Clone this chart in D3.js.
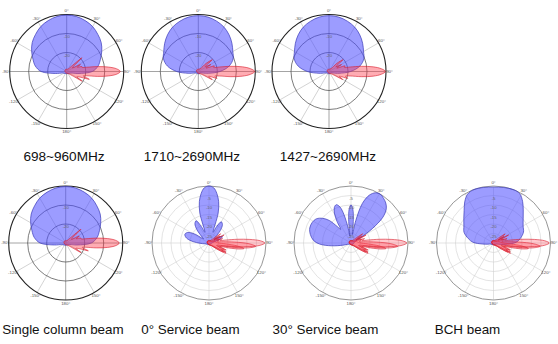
<!DOCTYPE html>
<html><head><meta charset="utf-8">
<script src="https://cdn.jsdelivr.net/npm/d3@7"></script>
<style>html,body{margin:0;padding:0;background:#fff;} svg{display:block;}</style>
</head><body>
<svg id="c" width="558" height="344"></svg>
<script>
// ---------------- DATA (angle in degrees clockwise from top, level in dB) ----------------
const spokeAngles = [0, 30, 60, 90, 120, 150, 180, -150, -120, -90, -60, -30];
const spokeLabels = ["0°", "30°", "60°", "90°", "120°", "150°", "180°", "-150°", "-120°", "-90°", "-60°", "-30°"];
const topRings = [-20, -10, 0];
const topRingLabels = ["-20", "-10"];
const svcRings = [-25, -20, -15, -10, -5, 0];
const svcRingLabels = ["-25", "-20", "-15", "-10", "-5"];
const captionsTop = ["698~960MHz", "1710~2690MHz", "1427~2690MHz"];
const captionsBottom = ["Single column beam", "0° Service beam", "30° Service beam", "BCH beam"];

// horizontal (blue) patterns
const hLow = [[-180,-28.8],[-150,-28.8],[-135,-28.5],[-120,-28.2],[-110,-27.6],[-100,-24],[-90,-16.5],[-80,-13.2],[-70,-11.1],[-60,-8.7],[-50,-6.3],[-40,-4.5],[-30,-2.7],[-20,-1.5],[-10,-0.6],[0,-0.3],[10,-0.6],[20,-1.5],[30,-2.7],[40,-4.5],[50,-6.3],[60,-8.7],[70,-11.1],[80,-13.2],[90,-16.5],[100,-24],[110,-27.6],[120,-28.2],[135,-28.5],[150,-28.8]];
const hHigh = [[-180,-28.8],[-160,-28.8],[-140,-28.8],[-120,-28.5],[-110,-27.6],[-100,-24.6],[-90,-18.6],[-80,-13.5],[-70,-10.5],[-60,-9],[-50,-6.9],[-40,-4.8],[-30,-3],[-20,-1.8],[-10,-0.9],[0,-0.6],[10,-0.9],[20,-1.8],[30,-3],[40,-4.8],[50,-6.9],[60,-9],[70,-10.5],[80,-13.5],[90,-18.6],[100,-24.6],[110,-27.6],[120,-28.5],[140,-28.8],[160,-28.8]];
const hSvc0 = [[-180,-29.1],[-150,-29.1],[-120,-28.8],[-105,-28.2],[-95,-26.4],[-88,-23.4],[-82,-19.8],[-76,-17.4],[-70,-16.5],[-64,-17.4],[-58,-21],[-53,-26.4],[-48,-24.6],[-42,-20.4],[-36,-17.4],[-30,-16.5],[-25,-20.4],[-21,-24],[-17,-13.5],[-13,-7.5],[-9,-3.6],[-5,-0.9],[0,0],[5,-0.9],[9,-3.6],[13,-7.5],[17,-13.5],[21,-24],[25,-20.4],[30,-17.1],[36,-18],[42,-21],[48,-25.5],[53,-26.4],[58,-24],[64,-22.2],[70,-23.4],[76,-26.4],[85,-28.2],[100,-28.8],[120,-29.1],[150,-29.1]];
const hSvc30 = [[-180,-29.1],[-140,-29.1],[-115,-28.5],[-105,-25.5],[-98,-19.5],[-92,-13.5],[-86,-10.2],[-78,-8.1],[-70,-6.9],[-62,-6.9],[-55,-7.8],[-49,-10.2],[-44,-13.5],[-40,-18.6],[-37,-21],[-33,-16.5],[-29,-12],[-25,-9.3],[-21,-8.4],[-17,-10.2],[-14,-14.4],[-11,-21.6],[-9,-26.4],[-6,-18.6],[-3,-12],[0,-9.9],[3,-12],[6,-18.6],[9,-25.5],[12,-18],[16,-8.4],[21,-3],[26,-0.6],[31,0],[36,-0.9],[41,-2.1],[46,-4.2],[51,-8.4],[56,-16.5],[61,-24],[70,-27.6],[90,-28.5],[120,-28.8],[150,-29.1]];
const hBch = [[-180,-29.1],[-130,-28.8],[-112,-28.5],[-102,-27],[-95,-24],[-88,-19.2],[-80,-16.5],[-70,-13.5],[-60,-12],[-50,-9.6],[-42,-6.9],[-35,-3.6],[-28,-0.9],[-20,0],[-10,-0.3],[0,-0.6],[10,-0.3],[20,0],[28,-0.6],[35,-3.3],[42,-6.6],[50,-9.6],[60,-12],[70,-13.2],[80,-15.6],[88,-18],[95,-22.5],[102,-26.4],[112,-28.5],[130,-28.8]];

// vertical (red) patterns
const vLow = [[-90,-29.1],[-40,-28.8],[0,-28.8],[30,-28.5],[42,-26.4],[48,-19.2],[53,-25.5],[58,-26.4],[63,-21.9],[68,-24],[72,-21.6],[75,-21.6],[78,-19.2],[81,-13.5],[84,-7.8],[87,-3.6],[90,-1.8],[93,-3.6],[96,-7.8],[99,-13.5],[102,-19.2],[105,-21],[109,-17.4],[113,-22.5],[118,-24],[122,-20.4],[127,-26.4],[140,-28.5],[180,-29.1]];
const vHigh = [[-90,-29.1],[-40,-28.8],[0,-28.8],[35,-28.2],[44,-24],[50,-20.4],[55,-25.5],[61,-22.5],[66,-25.5],[71,-21],[75,-21.6],[78,-18.6],[81,-12.6],[84,-6.6],[87,-2.4],[90,-0.3],[93,-2.4],[96,-6.6],[99,-12.6],[102,-18.6],[106,-21],[110,-19.5],[115,-24],[120,-21.6],[125,-26.4],[140,-28.5],[180,-29.1]];
const vSvcA = [[-90,-29.1],[-40,-28.8],[0,-28.8],[30,-28.5],[45,-26.4],[52,-22.2],[57,-27],[62,-21],[67,-25.8],[72,-22.5],[77,-24],[80,-21],[82.5,-15],[85,-8.4],[87.5,-3],[90,-0.6],[92.5,-3],[95,-8.4],[97.5,-15],[100,-21],[103,-24.6],[108,-25.8],[113,-21.6],[118,-20.1],[123,-25.5],[135,-28.2],[180,-29.1]];
const vSvcB = [[-90,-29.1],[-40,-28.8],[0,-28.8],[50,-28.2],[58,-23.4],[63,-27],[72,-24],[80,-25.5],[85,-22.5],[88,-16.5],[91,-9],[94,-5.4],[97,-9],[100,-16.5],[103,-22.5],[108,-24],[112,-20.4],[117,-22.5],[122,-21],[128,-25.5],[140,-28.5],[180,-29.1]];
const vSvcC = [[-90,-29.1],[-40,-28.8],[0,-28.8],[60,-28.5],[75,-27],[88,-25.5],[93,-21],[96,-15],[99,-11.4],[102,-15],[105,-21],[110,-24.6],[116,-22.5],[121,-19.5],[126,-24],[140,-28.2],[180,-29.1]];

// ---------------- LAYOUT ----------------
const charts = [
  {cx: 66.7, cy: 71.5, R: 57, grid: "dark", blue: hLow,  reds: [vLow]},
  {cx: 198.3, cy: 71.5, R: 57, grid: "dark", blue: hHigh, reds: [vHigh]},
  {cx: 329, cy: 71.5, R: 57, grid: "dark", blue: hHigh, reds: [vHigh]},
  {cx: 65.7, cy: 243, R: 57, grid: "dark", blue: hLow,  reds: [vLow]},
  {cx: 209, cy: 243, R: 57, grid: "light", blue: hSvc0,  reds: [vSvcC, vSvcB, vSvcA]},
  {cx: 351, cy: 243, R: 57, grid: "light", blue: hSvc30, reds: [vSvcC, vSvcB, vSvcA]},
  {cx: 493.5, cy: 243, R: 57, grid: "light", blue: hBch,   reds: [vSvcC, vSvcB, vSvcA]}
];
const capTopX = [64, 192, 328], capTopY = 160.5;
const capBotX = [63, 190.5, 325.5, 467.5], capBotY = 334;

const svg = d3.select("#c");
const rad = Math.PI / 180;

charts.forEach(c => {
  const g = svg.append("g").attr("transform", `translate(${c.cx},${c.cy})`);
  const r = d3.scaleLinear().domain([-30, 0]).range([0, c.R]);
  const dark = c.grid === "dark";
  const rings = dark ? topRings : svcRings;

  // spokes
  g.selectAll("line.sp").data(spokeAngles).join("line")
    .attr("x1", 0).attr("y1", 0)
    .attr("x2", a => c.R * Math.sin(a * rad))
    .attr("y2", a => -c.R * Math.cos(a * rad))
    .attr("stroke", a => (dark && (a % 90 === 0)) ? "#9a9a9a" : (dark ? "#b5b5b5" : "#d0d0d0"))
    .attr("stroke-width", a => (dark && a % 90 === 0) ? 0.9 : 0.6);

  // rings
  g.selectAll("circle.rg").data(rings).join("circle")
    .attr("r", d => r(d)).attr("fill", "none")
    .attr("stroke", d => d === 0 ? (dark ? "#222" : "#8a8a8a") : (dark ? "#444" : "#d0d0d0"))
    .attr("stroke-width", d => d === 0 ? (dark ? 1.1 : 0.9) : (dark ? 0.7 : 0.6));

  // patterns
  const line = d3.lineRadial()
    .angle(d => d[0] * rad)
    .radius(d => r(d[1]))
    .curve(d3.curveCatmullRomClosed.alpha(0.5));

  g.append("path").datum(c.blue).attr("d", line)
    .attr("fill", "#4a4aff").attr("fill-opacity", 0.55)
    .attr("stroke", "#3a3ab8").attr("stroke-width", 0.7);

  c.reds.forEach(v => {
    g.append("path").datum(v).attr("d", line)
      .attr("fill", "#ff3a4a").attr("fill-opacity", dark ? 0.42 : 0.28)
      .attr("stroke", "#d81c2c").attr("stroke-width", 0.6);
  });

  // spoke labels
  g.selectAll("text.sl").data(spokeAngles).join("text")
    .attr("x", a => (c.R + 3.5) * Math.sin(a * rad))
    .attr("y", a => -(c.R + 3.5) * Math.cos(a * rad))
    .attr("text-anchor", "middle").attr("dominant-baseline", "middle")
    .attr("font-family", "Liberation Sans, Arial, sans-serif")
    .attr("font-size", 4.4).attr("fill", "#555")
    .text((a, i) => spokeLabels[i]);

  // ring labels
  const rl = dark ? topRingLabels : svcRingLabels;
  const rv = dark ? topRings.slice(0, 2) : svcRings.slice(0, 5);
  g.selectAll("text.rl").data(rv).join("text")
    .attr("x", 0).attr("y", d => -r(d) + 4)
    .attr("text-anchor", "middle")
    .attr("font-family", "Liberation Sans, Arial, sans-serif")
    .attr("font-size", 4.2).attr("fill", "#666")
    .text((d, i) => rl[i]);
});

svg.selectAll("text.ct").data(captionsTop).join("text")
  .attr("x", (d, i) => capTopX[i]).attr("y", capTopY)
  .attr("text-anchor", "middle")
  .attr("font-family", "Liberation Sans, Arial, sans-serif")
  .attr("font-size", 13.6).attr("fill", "#111")
  .text(d => d);
svg.selectAll("text.cb").data(captionsBottom).join("text")
  .attr("x", (d, i) => capBotX[i]).attr("y", capBotY)
  .attr("text-anchor", "middle")
  .attr("font-family", "Liberation Sans, Arial, sans-serif")
  .attr("font-size", 13.4).attr("fill", "#111")
  .text(d => d);
</script>
</body></html>
